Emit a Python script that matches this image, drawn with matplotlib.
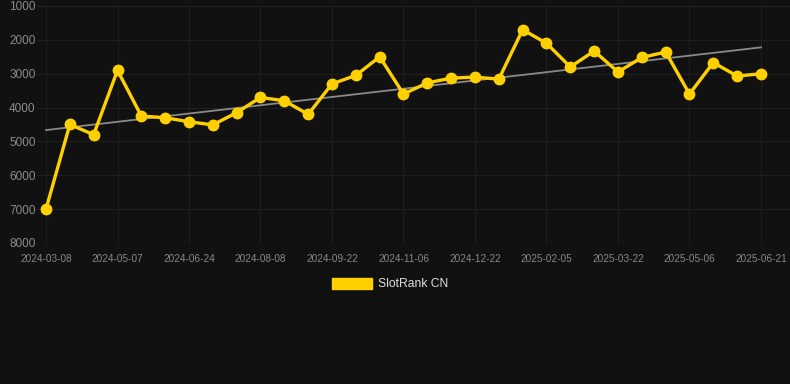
import numpy as np
from matplotlib import pyplot as plt
from matplotlib.patches import Patch

# rank values (lower is better, axis inverted)
ranks = [7000, 4500, 4800, 2900, 4250, 4300, 4420, 4510, 4150, 3700,
         3800, 4200, 3300, 3050, 2500, 3600, 3270, 3130, 3100, 3160,
         1700, 2100, 2800, 2330, 2950, 2520, 2360, 3600, 2670, 3070, 3000]
tick_labels = ['2024-03-08', '2024-05-07', '2024-06-24', '2024-08-08', '2024-09-22',
               '2024-11-06', '2024-12-22', '2025-02-05', '2025-03-22', '2025-05-06',
               '2025-06-21']
y_ticks = [1000, 2000, 3000, 4000, 5000, 6000, 7000, 8000]

bg = '#111111'
gold = '#ffd000'
plt.rcParams['font.family'] = ['Liberation Sans', 'DejaVu Sans']

fig = plt.figure(figsize=(7.9, 3.84), dpi=100, facecolor=bg)
W, H = 790, 384
ax = fig.add_axes([37 / W, (H - 243) / H, (790 - 37) / W, 237 / H])
ax.set_facecolor(bg)

x = np.arange(len(ranks))
step = 23.83
ax.set_xlim(-(46 - 37) / step, 30 + (790 - 761) / step)
ax.set_ylim(8000, 1000)

# trend line
k, b = np.polyfit(x, ranks, 1)
ax.plot(x, k * x + b, color='#8a8a8a', lw=1.3, zorder=2)

ax.plot(x, ranks, color=gold, lw=2.4, marker='o', markersize=7.5,
        markerfacecolor=gold, markeredgecolor=gold, zorder=3)

ax.set_xticks(x[::3])
ax.set_xticklabels(tick_labels)
ax.set_yticks(y_ticks)
ax.tick_params(axis='x', colors='#888888', labelsize=7.2, length=0, pad=8)
ax.tick_params(axis='y', colors='#8c8c8c', labelsize=8.5, length=0, pad=1)
ax.grid(True, color='#1f1f1f', lw=0.8, zorder=0)
for s in ax.spines.values():
    s.set_visible(False)

handle = Patch(facecolor=gold, edgecolor=gold)
fig.legend([handle], ['SlotRank CN'], loc='center', bbox_to_anchor=(390 / W, 1 - 284 / H),
           frameon=False, fontsize=8.7, labelcolor='#dddddd', handlelength=3.3,
           handleheight=1.1, handletextpad=0.5)

fig.savefig('out.png', dpi=100, facecolor=bg)
